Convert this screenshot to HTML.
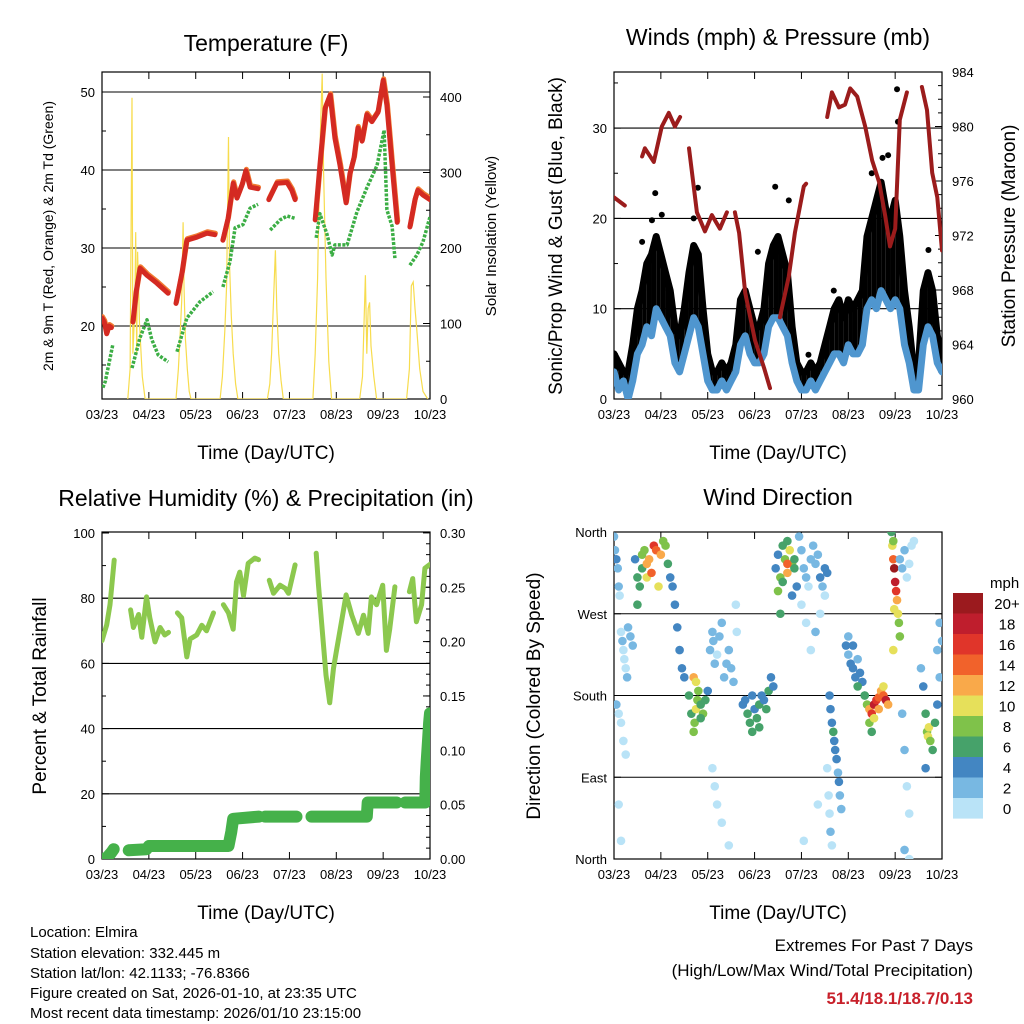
<!DOCTYPE html>
<html><head><meta charset="utf-8"><style>
html,body{margin:0;padding:0;background:#fff}
svg{display:block;font-family:"Liberation Sans",Arial,sans-serif}
</style></head><body>
<svg id="fig" width="1024" height="1024" viewBox="0 0 1024 1024" xmlns="http://www.w3.org/2000/svg">
<defs>
<clipPath id="c1"><rect x="102" y="72" width="328" height="327"/></clipPath>
<clipPath id="c2"><rect x="614" y="72" width="328" height="327"/></clipPath>
<clipPath id="c3"><rect x="102" y="532" width="328" height="327"/></clipPath>
<clipPath id="c4"><rect x="614" y="532" width="328" height="327"/></clipPath>
</defs>
<text x="266" y="51" font-size="23" text-anchor="middle">Temperature (F)</text>
<text x="778" y="45" font-size="23" text-anchor="middle">Winds (mph) &amp; Pressure (mb)</text>
<text x="266" y="506" font-size="23" text-anchor="middle">Relative Humidity (%) &amp; Precipitation (in)</text>
<text x="778" y="505" font-size="23" text-anchor="middle">Wind Direction</text>
<text transform="translate(53,236) rotate(-90)" font-size="14" text-anchor="middle">2m &amp; 9m T (Red, Orange) &amp; 2m Td (Green)</text>
<text transform="translate(496,236) rotate(-90)" font-size="15" text-anchor="middle">Solar Insolation (Yellow)</text>
<text transform="translate(562,236) rotate(-90)" font-size="19" text-anchor="middle">Sonic/Prop Wind &amp; Gust (Blue, Black)</text>
<text transform="translate(1015,236) rotate(-90)" font-size="19" text-anchor="middle">Station Pressure (Maroon)</text>
<text transform="translate(46,696) rotate(-90)" font-size="19" text-anchor="middle">Percent &amp; Total Rainfall</text>
<text transform="translate(540,696) rotate(-90)" font-size="19" text-anchor="middle">Direction (Colored By Speed)</text>
<text x="266" y="459" font-size="19" text-anchor="middle">Time (Day/UTC)</text>
<text x="778" y="459" font-size="19" text-anchor="middle">Time (Day/UTC)</text>
<text x="266" y="919" font-size="19" text-anchor="middle">Time (Day/UTC)</text>
<text x="778" y="919" font-size="19" text-anchor="middle">Time (Day/UTC)</text>
<g font-size="15">
<text x="30" y="937">Location: Elmira</text>
<text x="30" y="958">Station elevation: 332.445 m</text>
<text x="30" y="978">Station lat/lon: 42.1133; -76.8366</text>
<text x="30" y="998">Figure created on Sat, 2026-01-10, at 23:35 UTC</text>
<text x="30" y="1018">Most recent data timestamp: 2026/01/10 23:15:00</text>
</g>
<text x="973" y="951" font-size="17" text-anchor="end">Extremes For Past 7 Days</text>
<text x="973" y="976" font-size="17" text-anchor="end">(High/Low/Max Wind/Total Precipitation)</text>
<text x="973" y="1004" font-size="17" font-weight="bold" fill="#c8202a" text-anchor="end">51.4/18.1/18.7/0.13</text>
</svg>
<script>
const dayLabels=['03/23','04/23','05/23','06/23','07/23','08/23','09/23','10/23'];
// Temperature (F) - null separates segments
const tempT=[0,0.05,0.1,0.15,0.2,null,0.66,0.73,0.81,0.96,1.17,1.41,null,1.58,1.71,1.81,2.03,2.24,2.41,null,2.58,2.69,2.8,2.88,2.99,3.07,3.16,3.33,null,3.56,3.73,3.95,4.05,4.12,null,4.55,4.65,4.76,4.87,4.97,5.08,5.21,5.29,5.38,5.46,5.55,5.65,5.76,5.89,6.0,6.08,6.19,6.3,null,6.57,6.68,6.74,6.85,7.0];
const tempV=[21,20.5,19,20,19.8,null,20.5,24.4,27.4,26.5,25.5,24.2,null,22.9,26.9,31,31.4,31.9,31.7,null,31,33.8,38.3,36.4,38.1,39.9,37.8,37.6,null,36.2,38.3,38.4,37.4,36.2,null,33.6,40.6,47.9,49.6,44.1,40.6,35.8,39.5,41.6,45.4,43.7,47.1,46.2,47.4,51.5,48.3,40.6,33.3,null,32.7,36.2,37.4,36.8,36.2];
const dewT=[0.02,0.07,0.23,null,0.64,0.81,0.96,1.06,1.2,1.41,null,1.6,1.81,2.09,2.37,null,2.58,2.73,2.84,3.01,3.16,3.33,null,3.59,3.8,3.95,4.12,null,4.57,4.65,4.8,4.91,4.97,5.23,5.44,5.65,5.87,6.02,6.08,6.19,6.25,null,6.57,6.72,6.85,7.0];
const dewV=[12.1,12.9,17.6,null,14.6,18.5,20.8,18.3,16.3,15.4,null,16.7,21,23.1,24.4,null,25,28.2,32.6,33,35.1,35.6,null,32.3,33.6,34.1,33.8,null,31.3,34.4,31.8,29.1,30.4,30.4,34.6,37.7,40.6,45.1,34.9,32.8,28.7,null,27.8,29.1,30.8,34];
const solarT=[0.55,0.6,0.64,0.66,0.7,0.72,0.74,0.76,0.8,0.86,0.92,1.58,1.63,1.67,1.7,1.73,1.75,1.78,1.82,1.86,1.9,2.52,2.57,2.62,2.66,2.7,2.72,2.76,2.8,2.85,2.9,3.53,3.58,3.62,3.66,3.7,3.73,3.77,3.82,3.87,4.5,4.55,4.6,4.65,4.7,4.73,4.78,4.84,4.9,5.5,5.56,5.62,5.65,5.68,5.71,5.74,5.8,5.86,6.5,6.56,6.6,6.64,6.68,6.72,6.78,6.85,6.95];
const solarV=[0,40,399,60,120,221,60,195,100,30,0,0,40,90,130,234,150,80,40,10,0,0,30,90,150,347,180,110,60,20,0,0,20,60,130,197,120,60,25,0,0,60,160,330,431,300,160,50,0,0,30,164,60,120,128,70,30,0,0,40,150,155,120,90,40,10,0];
// Winds (every 0.1 day)
const sustV=[3,1,2,0,2,5,6,8,7,10,9,8,7,4,3,5,7,9,8,5,2,1,1,2,1,2,3,6,7,5,4,4,5,8,9,9,8,7,4,2,1,1,2,1,2,3,4,5,5,4,6,5,5,6,10,11,10,12,11,10,11,10,6,4,1,1,6,8,7,4,3];
const gustV=[5,4,3,3,6,10,12,15,16,18,16,14,12,8,7,10,14,17,16,10,5,3,3,4,3,4,6,11,12,10,8,8,10,15,17,18,16,14,8,4,3,3,4,3,4,6,8,10,11,9,11,10,11,12,18,20,22,24,21,20,22,18,12,8,3,4,12,14,12,7,5];
const gustOutT=[0.88,1.79,3.44,3.73,3.07,4.69,6.04,6.06,5.73,5.5,6.71,0.81,1.02,0.6,4.15,5.6,5.85,1.7];
const gustOutV=[22.8,23.4,23.5,22,16.3,12,34.3,30.7,26.7,25,16.5,19.8,20.4,17.4,4.9,22,27,20];
const presT=[0,0.23,null,0.6,0.66,0.85,1.02,1.17,1.3,1.41,null,1.6,1.77,1.94,2.09,2.26,2.41,null,2.58,2.67,2.8,3.01,3.2,3.33,null,3.54,3.73,3.86,4.05,4.1,null,4.55,4.65,4.8,4.93,5.04,5.19,5.36,5.51,5.66,5.79,5.89,6.0,6.1,6.25,null,6.57,6.68,6.79,6.9,7.0];
const presV=[974.8,974.2,null,977.8,978.4,977.4,980,981,980,980.7,null,978.4,973.7,972.3,973.5,972.5,973.7,null,973.7,972.2,967.8,964.3,962.3,960.8,null,966,969,972.2,975.6,975.8,null,980.7,982.5,981.4,981.6,982.8,982.2,980,977.5,975.9,973.4,971.2,972.5,980.5,982.5,null,982.9,981.2,976.6,974.8,970.9];
// RH and precip
const rhT=[0,0.1,0.17,0.26,null,0.61,0.67,0.78,0.85,0.95,1.02,1.13,1.24,1.34,1.42,null,1.61,1.7,1.81,1.88,2.02,2.13,2.23,2.38,null,2.59,2.7,2.8,2.87,2.94,3.02,3.12,3.26,3.34,null,3.57,3.66,3.8,3.91,3.98,4.12,null,4.57,4.62,4.69,4.78,4.86,4.94,5.0,5.11,5.21,5.33,5.47,5.58,5.68,5.75,5.86,5.99,6.07,6.14,6.25,null,6.56,6.63,6.71,6.82,6.89,7.0];
const rhV=[67,71.8,78,91.7,null,76.4,71,75,68,80.4,74,66.6,71,68.7,69.5,null,75.5,74,62,67.5,68.7,71.7,70,75.5,null,78,75.5,70.5,85,88,80.8,90.7,92.3,91.8,null,85.5,81.5,84,83,81.5,90.2,null,93.8,84,71.8,56.4,47.9,58.5,63.6,72.8,81,74.8,69.2,74.8,69.2,80.4,78,84,64,70.5,83.5,null,82,86,72.8,78,89.2,90.4];
const precT=[0,0.1,0.2,0.25,null,0.57,0.95,1.0,2.7,2.76,2.8,3.35,null,3.48,4.15,null,4.47,5.65,5.67,6.29,null,6.47,6.9,6.91,6.93,6.96,6.98,7.0];
const precV=[0,0.001,0.006,0.009,null,0.008,0.009,0.012,0.012,0.025,0.037,0.039,null,0.039,0.039,null,0.039,0.039,0.052,0.052,null,0.052,0.052,0.075,0.09,0.11,0.125,0.134];
// Wind direction scatter
const dirT=[0,0.02,0.05,0.08,0.1,0.12,0.15,0.18,0.2,0.22,0.25,0.28,0.05,0.1,0.15,0.2,0.25,0.1,0.15,0.3,0.35,0.4,
0.45,0.5,0.5,0.55,0.6,0.6,0.65,0.7,0.7,0.75,0.8,0.85,0.9,0.95,1.0,1.05,1.1,1.15,1.2,1.25,1.3,1.35,1.4,1.45,1.5,
1.6,1.65,1.7,1.72,1.75,1.78,1.8,1.85,1.9,1.95,2.0,1.7,1.75,1.85,
2.05,2.1,2.12,2.15,2.2,2.25,2.3,2.35,2.4,2.45,2.5,2.55,2.1,2.15,2.2,2.3,2.45,2.6,2.62,
2.75,2.8,2.85,2.9,2.95,3.0,3.05,3.1,3.15,3.2,3.25,3.3,3.35,3.4,2.95,3.1,
3.45,3.5,3.55,3.6,3.65,3.7,3.75,3.8,3.85,3.9,3.5,3.6,3.7,3.8,3.55,3.7,3.85,
3.95,4.0,4.05,4.1,4.15,4.2,4.25,4.3,4.35,4.4,4.45,4.5,4.55,4.0,4.1,4.2,4.3,4.4,4.5,4.05,4.35,
4.6,4.62,4.65,4.68,4.7,4.72,4.75,4.78,4.8,4.82,4.85,4.55,4.58,4.6,4.62,4.65,
4.95,5.0,5.05,5.1,5.15,5.2,5.25,5.3,5.0,5.1,5.2,5.35,
5.35,5.4,5.45,5.5,5.55,5.6,5.65,5.7,5.75,5.8,5.85,5.45,5.55,5.65,5.75,5.5,
5.92,5.94,5.96,5.98,6.0,6.02,6.04,6.06,6.08,6.1,5.96,5.98,5.96,
6.1,6.15,6.2,6.25,6.3,6.35,6.4,6.15,6.2,6.25,6.3,6.2,6.3,
6.55,6.6,6.65,6.68,6.7,6.72,6.75,6.8,6.85,6.9,6.95,7.0,6.9,6.95,6.65];
const dirV=[355,340,330,320,300,290,250,240,230,220,210,200,170,160,150,130,115,60,20,255,245,235,
330,310,280,300,335,320,340,310,325,330,315,345,340,300,335,350,345,325,310,300,280,255,230,210,200,
180,160,140,150,165,175,185,170,160,175,185,200,195,155,
230,250,240,215,225,245,260,200,215,230,210,195,100,80,60,40,15,280,250,
170,175,160,150,180,165,155,170,180,175,165,185,200,190,140,145,
320,335,310,345,330,315,340,325,320,300,295,305,350,290,270,325,330,
355,340,320,310,300,330,345,325,335,310,300,320,315,280,260,230,250,270,290,20,60,
180,165,150,140,130,120,110,95,85,70,55,100,70,50,30,15,
235,225,215,210,200,220,205,195,245,235,190,180,
180,170,165,160,170,175,178,185,180,175,170,150,155,165,190,140,
360,345,330,320,305,295,285,270,260,245,350,275,230,
330,320,340,310,325,345,350,160,120,80,50,10,0,
210,190,160,140,135,145,130,120,150,170,200,240,230,260,100];
const dirS=[3,3,4,2,2,1,1,2,1,1,1,2,2,1,1,1,0,0,0,2,2,3,
5,6,6,7,8,7,9,10,12,13,15,16,14,11,12,9,8,6,5,4,4,4,5,4,4,
6,7,8,9,10,9,8,7,8,6,5,12,11,7,
2,2,2,2,1,2,2,2,3,2,3,3,1,1,1,1,0,1,1,
4,5,6,7,4,5,6,7,5,4,6,7,4,5,6,7,
4,5,8,7,9,13,11,8,6,4,9,6,7,5,7,14,6,
2,3,2,2,1,2,3,2,3,4,3,4,4,1,1,1,2,1,1,1,1,
4,5,4,6,4,5,4,3,4,3,3,1,1,1,2,1,
4,3,4,5,4,3,4,5,3,4,6,6,
6,9,13,17,19,16,14,12,15,18,13,8,11,12,10,6,
7,10,14,20,18,16,12,10,8,9,9,10,10,
2,3,2,1,1,0,1,3,2,1,1,2,1,
3,4,6,8,10,11,9,7,6,4,3,3,3,3,4];
const legendLabels=['20+','18','16','14','12','10','8','6','4','2','0'];
const legendColors=['#9b1a1e','#bf1e2d','#e0352a','#f1622b','#f9a94a','#e6e05a','#7fc24a','#46a26a','#4386c2','#78b8e2','#b9e3f7'];

const NS='http://www.w3.org/2000/svg';
const svg=document.getElementById('fig');
function mk(tag,attrs,parent){const e=document.createElementNS(NS,tag);for(const k in attrs)e.setAttribute(k,attrs[k]);(parent||svg).appendChild(e);return e;}
const DAY=46.86;
function xs(x0){return t=>x0+t*DAY;}
const P1={x0:102,y0:72,y1:399,ly:v=>326-(v-20)*7.8,ry:v=>399-v*0.755,clip:'c1'};
const P2={x0:614,y0:72,y1:399,ly:v=>399-v*9.03,ry:v=>399-(v-960)*13.625,clip:'c2'};
const P3={x0:102,y0:532,y1:859,ly:v=>859-v*3.26,ry:v=>859-v*1087,clip:'c3'};
const P4={x0:614,y0:532,y1:859,ly:v=>859-v*0.9083,clip:'c4'};

function pathFrom(T,V,fx,fy){let d='',pen=false;for(let i=0;i<T.length;i++){if(T[i]===null||V[i]===null){pen=false;continue;}d+=(pen?'L':'M')+fx(T[i]).toFixed(1)+' '+fy(V[i]).toFixed(1);pen=true;}return d;}

function frame(P,name){
  const x0=P.x0;
  const g=mk('g',{});
  
  
  const r=mk('rect',{x:x0,y:P.y0,width:328,height:P.y1-P.y0,fill:'none',stroke:'#000','stroke-width':1.2},g);
  
  
  const fx=xs(x0);
  for(let i=0;i<dayLabels.length;i++){
    const x=fx(i);
    mk('line',{x1:x,x2:x,y1:P.y1,y2:P.y1-7,stroke:'#000','stroke-width':1},g);
    mk('line',{x1:x,x2:x,y1:P.y0,y2:P.y0+7,stroke:'#000','stroke-width':1},g);
    const t=mk('text',{x:x,y:P.y1+20,'font-size':13,'text-anchor':'middle'},g);
    t.textContent=dayLabels[i];
    
    
  }
  return g;
}
function grid(P,vals,fy,g){for(const v of vals){const y=fy(v);mk('line',{x1:P.x0,x2:P.x0+328,y1:y,y2:y,stroke:'#000','stroke-width':1.1},g);}}
function leftTicks(P,vals,fy,labels,g,minor){
  for(let i=0;i<vals.length;i++){const y=fy(vals[i]);mk('line',{x1:P.x0,x2:P.x0+7,y1:y,y2:y,stroke:'#000'},g);
    if(labels){const t=mk('text',{x:P.x0-7,y:y+5,'font-size':13,'text-anchor':'end'},g);t.textContent=labels[i];
    
    }}
  if(minor)for(const v of minor){const y=fy(v);mk('line',{x1:P.x0,x2:P.x0+4,y1:y,y2:y,stroke:'#000'},g);}
}
function rightTicks(P,vals,fy,labels,g,minor){
  const x1=P.x0+328;
  for(let i=0;i<vals.length;i++){const y=fy(vals[i]);mk('line',{x1:x1,x2:x1-7,y1:y,y2:y,stroke:'#000'},g);
    const t=mk('text',{x:x1+10,y:y+5,'font-size':13,'text-anchor':'start'},g);t.textContent=labels[i];
    
    }
  if(minor)for(const v of minor){const y=fy(v);mk('line',{x1:x1,x2:x1-4,y1:y,y2:y,stroke:'#000'},g);}
}
function range(a,b,s){const r=[];for(let v=a;v<=b+1e-9;v+=s)r.push(+v.toFixed(4));return r;}

// ---------- Panel 1 ----------
{
const g=frame(P1,'temperature');
grid(P1,[20,30,40,50],P1.ly,g);
leftTicks(P1,[20,30,40,50],P1.ly,['20','30','40','50'],g,[15,25,35,45]);
rightTicks(P1,[0,100,200,300,400],P1.ry,['0','100','200','300','400'],g,[50,150,250,350]);
const fx=xs(P1.x0);
const cg=mk('g',{'clip-path':'url(#c1)'});


const s=mk('path',{d:pathFrom(solarT,solarV,fx,P1.ry),fill:'none',stroke:'#f7dc4e','stroke-width':1.2},cg);


const o=mk('path',{d:pathFrom(tempT,tempV,t=>fx(t)+0.5,v=>P1.ly(v)-1.5),fill:'none',stroke:'#f07a30','stroke-width':5,'stroke-linejoin':'round','stroke-linecap':'round'},cg);


const r=mk('path',{d:pathFrom(tempT,tempV,fx,P1.ly),fill:'none',stroke:'#d42a22','stroke-width':5,'stroke-linejoin':'round','stroke-linecap':'round'},cg);


const d=mk('path',{d:pathFrom(dewT,dewV,fx,P1.ly),fill:'none',stroke:'#3cae45','stroke-width':3.5,'stroke-dasharray':'3 1.5','stroke-linejoin':'round'},cg);


}
// ---------- Panel 2 ----------
{
const g=frame(P2,'winds');
grid(P2,[10,20,30],P2.ly,g);
leftTicks(P2,[0,10,20,30],P2.ly,['0','10','20','30'],g,[5,15,25,35]);
rightTicks(P2,[960,964,968,972,976,980,984],P2.ry,['960','964','968','972','976','980','984'],g,range(961,983,1));
const fx=xs(P2.x0);
const cg=mk('g',{'clip-path':'url(#c2)'});


const tt=gustV.map((_,i)=>i*0.1);
const gl=mk('path',{d:pathFrom(tt,gustV,fx,P2.ly),fill:'none',stroke:'#000','stroke-width':7,'stroke-linejoin':'round','stroke-linecap':'round'},cg);


for(let i=0;i<gustV.length-1;i++){
  const x=fx(tt[i]),x2=fx(tt[i+1]);
  const pts=[x+','+P2.ly(gustV[i]),x2+','+P2.ly(gustV[i+1]),x2+','+P2.ly(sustV[i+1]),x+','+P2.ly(sustV[i])].join(' ');
  const c=mk('polygon',{points:pts,fill:'#000'},cg);
  
  
}
for(let i=0;i<gustOutT.length;i++){
  const c=mk('circle',{cx:fx(gustOutT[i]),cy:P2.ly(gustOutV[i]),r:3,fill:'#000'},cg);
  
  
}
const sl=mk('path',{d:pathFrom(tt,sustV,fx,P2.ly),fill:'none',stroke:'#4f96cf','stroke-width':7,'stroke-linejoin':'round','stroke-linecap':'round'},cg);


const pl=mk('path',{d:pathFrom(presT,presV,fx,P2.ry),fill:'none',stroke:'#9b1c1c','stroke-width':4,'stroke-linejoin':'round','stroke-linecap':'round'},cg);


}
// ---------- Panel 3 ----------
{
const g=frame(P3,'humidity');
grid(P3,[20,40,60,80],P3.ly,g);
leftTicks(P3,[0,20,40,60,80,100],P3.ly,['0','20','40','60','80','100'],g,[10,30,50,70,90]);
rightTicks(P3,[0,0.05,0.1,0.15,0.2,0.25,0.3],P3.ry,['0.00','0.05','0.10','0.15','0.20','0.25','0.30'],g,range(0.01,0.29,0.01));
const fx=xs(P3.x0);
const cg=mk('g',{'clip-path':'url(#c3)'});


const rl=mk('path',{d:pathFrom(rhT,rhV,fx,P3.ly),fill:'none',stroke:'#8cc84e','stroke-width':5,'stroke-linejoin':'round','stroke-linecap':'round'},cg);


const pr=mk('path',{d:pathFrom(precT,precV,fx,P3.ry),fill:'none',stroke:'#45b14a','stroke-width':12,'stroke-linejoin':'round','stroke-linecap':'round'},cg);


}
// ---------- Panel 4 ----------
{
const g=frame(P4,'direction');
grid(P4,[90,180,270],P4.ly,g);
leftTicks(P4,[0,90,180,270,360],P4.ly,['North','East','South','West','North'],g,null);
const x1=P4.x0+328;
for(const v of [0,90,180,270,360]){const y=P4.ly(v);mk('line',{x1:x1,x2:x1-7,y1:y,y2:y,stroke:'#000'},g);}
const fx=xs(P4.x0);
const cg=mk('g',{'clip-path':'url(#c4)'});


for(let i=0;i<dirT.length;i++){
  const bin=Math.min(10,Math.floor(dirS[i]/2));
  const c=mk('circle',{cx:fx(dirT[i]),cy:P4.ly(dirV[i]),r:4.3,fill:legendColors[10-bin]},cg);
  
  
}
const lg=mk('g',{});


const mt=mk('text',{x:990,y:588,'font-size':15},lg);
mt.textContent='mph';


for(let i=0;i<legendLabels.length;i++){
  const y=593+i*20.5;
  const b=mk('rect',{x:953,y:y,width:30,height:20.6,fill:legendColors[i]},lg);
  
  
  const t=mk('text',{x:1007,y:y+16,'font-size':15,'text-anchor':'middle'},lg);
  t.textContent=legendLabels[i];
  
  
}
}
</script>
</body></html>
